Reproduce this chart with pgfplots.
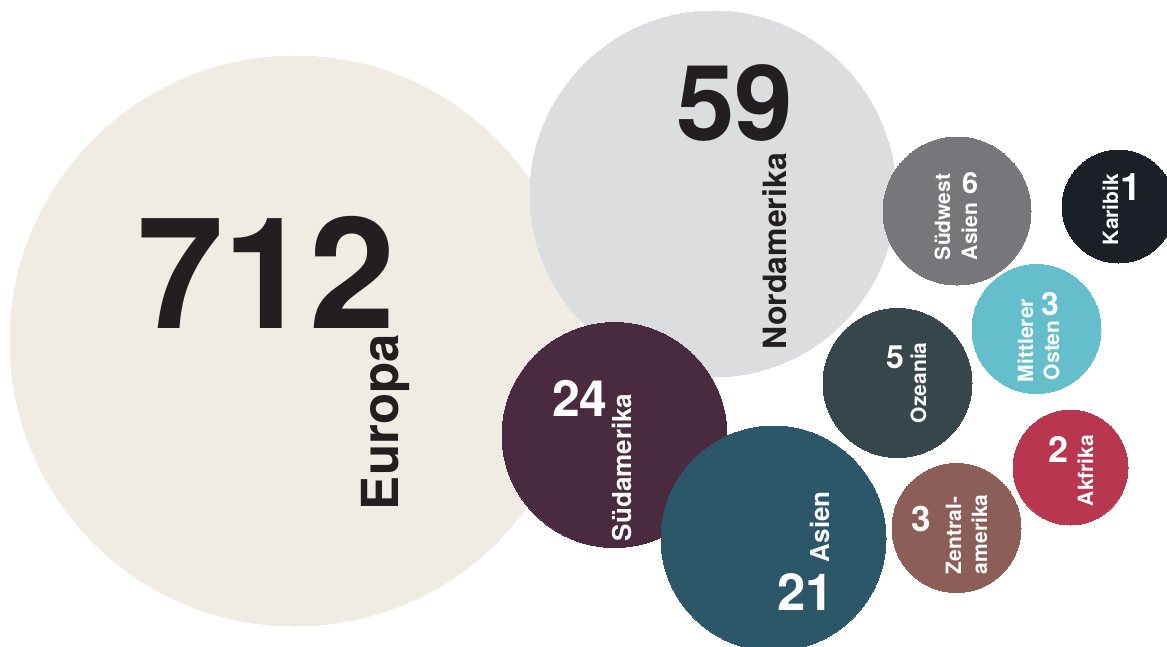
\documentclass[border=0pt]{standalone}
\usepackage{pgfplots}
\pgfplotsset{compat=1.18}
\usepackage{fontspec}
\setmainfont{TeX Gyre Heros}
\definecolor{cEur}{HTML}{F0ECE4}
\definecolor{cNam}{HTML}{DCDDDF}
\definecolor{cSam}{HTML}{4A2A3F}
\definecolor{cAsi}{HTML}{2C5768}
\definecolor{cOze}{HTML}{37464A}
\definecolor{cSwa}{HTML}{77777B}
\definecolor{cKar}{HTML}{1A2026}
\definecolor{cMos}{HTML}{64BECB}
\definecolor{cAfr}{HTML}{B8374F}
\definecolor{cZen}{HTML}{8C5E58}
\definecolor{cTxt}{HTML}{231F20}
\newcommand{\fs}[1]{\fontsize{#1bp}{#1bp}\selectfont\bfseries}
\pgfplotsset{bubble/.style={only marks, mark=*, color=#1, line width=0pt, mark options={draw=#1, fill=#1, line width=0pt}}}
\begin{document}
\begin{tikzpicture}
\begin{axis}[
  width=1167bp, height=647bp, scale only axis,
  hide axis,
  xmin=0, xmax=1167, ymin=0, ymax=647,
  y dir=reverse,
  clip marker paths=true,
]
% bubbles: centre (px) and radius (bp)
\addplot[bubble=cEur, mark size=285bp] coordinates {(295,341)};
\addplot[bubble=cNam, mark size=183bp] coordinates {(713,194)};
\addplot[bubble=cSam, mark size=112.5bp] coordinates {(614.5,435)};
\addplot[bubble=cAsi, mark size=112.5bp] coordinates {(773.5,538.5)};
\addplot[bubble=cOze, mark size=74.5bp] coordinates {(897.5,383)};
\addplot[bubble=cSwa, mark size=74bp] coordinates {(957,211)};
\addplot[bubble=cKar, mark size=56.5bp] coordinates {(1118.5,206.5)};
\addplot[bubble=cMos, mark size=64.5bp] coordinates {(1036.5,329)};
\addplot[bubble=cAfr, mark size=57.5bp] coordinates {(1070.5,467.5)};
\addplot[bubble=cZen, mark size=64.5bp] coordinates {(956.5,528)};

% labels
\begin{scope}[every node/.style={inner sep=0pt, outer sep=0pt}]
\node[anchor=base west, text=cTxt] at (axis cs:137,328) {\fs{155}712};
\node[anchor=base west, rotate=90, text=cTxt] at (axis cs:398,510) {\fs{51}Europa};

\node[anchor=base east, text=cTxt] at (axis cs:793,140) {\fs{105}59};
\node[anchor=base west, rotate=90, text=cTxt] at (axis cs:786,349) {\fs{32}Nordamerika};

\node[anchor=base west, text=white] at (axis cs:552,416) {\fs{50}24};
\node[anchor=base west, rotate=90, text=white] at (axis cs:631,541) {\fs{26}Südamerika};

\node[anchor=base west, text=white] at (axis cs:777,610) {\fs{51}21};
\node[anchor=base west, rotate=90, text=white] at (axis cs:829,562) {\fs{26}Asien};

\node[anchor=base west, text=white] at (axis cs:962,193) {\fs{29}6};
\node[anchor=base west, rotate=90, text=white] at (axis cs:950,260) {\fs{21}Südwest};
\node[anchor=base west, rotate=90, text=white] at (axis cs:977,260) {\fs{21}Asien};

\node[anchor=base west, text=white] at (axis cs:1120,200) {\fs{38}1};
\node[anchor=base west, rotate=90, text=white] at (axis cs:1118,245) {\fs{21}Karibik};

\node[anchor=base west, text=white] at (axis cs:886,368) {\fs{32}5};
\node[anchor=base west, rotate=90, text=white] at (axis cs:926,423) {\fs{21}Ozeania};

\node[anchor=base west, text=white] at (axis cs:1041,315) {\fs{32}3};
\node[anchor=base west, rotate=90, text=white] at (axis cs:1033,382) {\fs{21}Mittlerer};
\node[anchor=base west, rotate=90, text=white] at (axis cs:1059,380) {\fs{21}Osten};

\node[anchor=base west, text=white] at (axis cs:1048,462) {\fs{36}2};
\node[anchor=base west, rotate=90, text=white] at (axis cs:1093,506) {\fs{21}Akfrika};

\node[anchor=base west, text=white] at (axis cs:911,531) {\fs{35}3};
\node[anchor=base west, rotate=90, text=white] at (axis cs:961,574) {\fs{21}Zentral-};
\node[anchor=base west, rotate=90, text=white] at (axis cs:987,574) {\fs{21}amerika};
\end{scope}
\end{axis}
\pgfresetboundingbox
\useasboundingbox (current axis.south west) rectangle (current axis.north east);
\end{tikzpicture}
\end{document}
